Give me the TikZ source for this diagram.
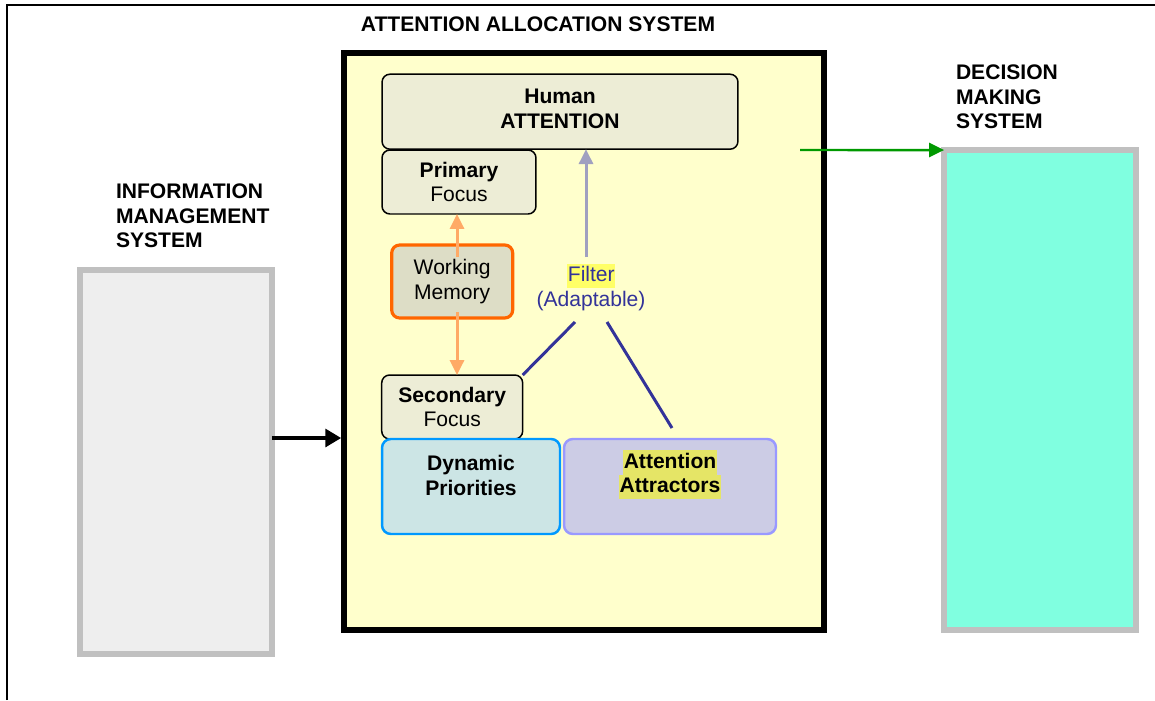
\documentclass[tikz,border=0pt]{standalone}
\usepackage{fontspec}
\setmainfont{Liberation Sans}
\usetikzlibrary{arrows.meta}
\definecolor{sysyellow}{HTML}{FFFFCC}
\definecolor{beige}{HTML}{EDEDD6}
\definecolor{wmfill}{HTML}{DDDDC6}
\definecolor{wmedge}{HTML}{FF6600}
\definecolor{dynfill}{HTML}{CCE5E5}
\definecolor{dynedge}{HTML}{0099FF}
\definecolor{attfill}{HTML}{CCCCE5}
\definecolor{attedge}{HTML}{9999FF}
\definecolor{hlatt}{HTML}{E5E566}
\definecolor{hlfilt}{HTML}{FFFF66}
\definecolor{navy}{HTML}{333399}
\definecolor{imsfill}{HTML}{EEEEEE}
\definecolor{sysgray}{HTML}{C0C0C0}
\definecolor{dmsfill}{HTML}{80FFE0}
\definecolor{orangearrow}{HTML}{FFAA66}
\definecolor{grayarrow}{HTML}{A0A0C0}
\definecolor{greenarrow}{HTML}{009900}
\begin{document}
\begin{tikzpicture}[x=0.02cm,y=-0.02cm,
  every node/.style={outer sep=0pt},
  font=\fontsize{12}{14}\selectfont,
  sysbox/.style={draw=black,fill=sysyellow,line width=3.4pt,inner sep=0pt},
  outerbox/.style={draw=sysgray,line width=3.2pt,inner sep=0pt},
  rbox/.style={draw=black,fill=beige,rounded corners=4.5pt,line width=0.85pt,align=center,inner sep=0pt},
  colbox/.style={rounded corners=5pt,line width=1.4pt,inner sep=0pt},
  title/.style={font=\fontsize{12}{14}\selectfont\bfseries,align=left,inner sep=0pt},
  hl/.style={inner xsep=0.3pt,inner ysep=0pt,text height=10.2pt,text depth=3.6pt,font=\fontsize{12}{14}\selectfont\bfseries},
  tip/.style={-{Triangle[length=8.5pt,width=8pt]}}
]
\useasboundingbox (0,0) rectangle (1155,700);
% outer frame
\draw[line width=1.15pt] (7,700) -- (7,5) -- (1155,5);

% system boxes
\node[sysbox,minimum width=9.6cm,minimum height=11.54cm] (sys) at (584,341.5) {};
\node[outerbox,fill=imsfill,minimum width=3.84cm,minimum height=7.68cm] (ims) at (176,462) {};
\node[outerbox,fill=dmsfill,minimum width=3.84cm,minimum height=9.6cm] (dms) at (1040,390) {};

% titles
\node[title,align=center] (atitle) at (538,24) {ATTENTION ALLOCATION SYSTEM};
\node[title,anchor=west] (ititle) at (116,216) {INFORMATION\\MANAGEMENT\\SYSTEM};
\node[title,anchor=west] (dtitle) at (956,97) {DECISION\\MAKING\\SYSTEM};

% inner boxes
\node[rbox,minimum width=7.12cm,minimum height=1.5cm] (human) at (560,111.7) {};
\node[title,align=center] (humantext) at (560,109) {Human\\ATTENTION};
\node[rbox,minimum width=3.08cm,minimum height=1.28cm] (primary) at (459,182) {\textbf{Primary}\\Focus};
\node[rbox,draw=wmedge,fill=wmfill,line width=1.8pt,minimum width=2.42cm,minimum height=1.46cm] (wm) at (452.2,281.5) {Working\\Memory};
\node[rbox,minimum width=2.82cm,minimum height=1.28cm] (secondary) at (452.2,407) {\textbf{Secondary}\\Focus};
\node[colbox,draw=dynedge,fill=dynfill,minimum width=3.56cm,minimum height=1.9cm] (dyn) at (471,486.5) {};
\node[colbox,draw=attedge,fill=attfill,minimum width=4.24cm,minimum height=1.9cm] (att) at (670,486.5) {};
\node[title,align=center] (dyntext) at (471,475.5) {Dynamic\\Priorities};
\node[hl,fill=hlatt] (atttext1) at (670,462.5) {Attention};
\node[hl,fill=hlatt] (atttext2) at (670,487) {Attractors};

% filter
\node[hl,fill=hlfilt,text=navy,font=\fontsize{12}{14}\selectfont] (filter) at (591.3,276) {Filter};
\node[inner sep=0pt,text=navy] (adapt) at (591,301) {(Adaptable)};

% coordinates for connector ends
\coordinate (ya) at (0,438);
\coordinate (g0) at (800,150);
\coordinate (g1) at (586,257);
\coordinate (o1) at (457,257);
\coordinate (o2) at (457,312);
\coordinate (f1) at (575,322);
\coordinate (f2) at (607,322);
\coordinate (f3) at (672,428);

% connectors
\draw[line width=2.3pt,-{Triangle[length=9pt,width=10pt]},shorten >=1.6pt] (ims.east |- ya) -- (sys.west |- ya);
\draw[greenarrow,line width=1.4pt,-{Triangle[length=8.5pt,width=8pt]}] (g0) -- (dms.north west);
\draw[grayarrow,line width=1.7pt,tip] (g1) -- (human.south -| g1);
\draw[orangearrow,line width=1.7pt,tip] (o1) -- (primary.south -| o1);
\draw[orangearrow,line width=1.7pt,tip] (o2) -- (secondary.north -| o2);
\draw[navy,line width=1.7pt] (secondary.north east) -- (f1);
\draw[navy,line width=1.7pt] (f2) -- (f3);
\end{tikzpicture}
\end{document}
